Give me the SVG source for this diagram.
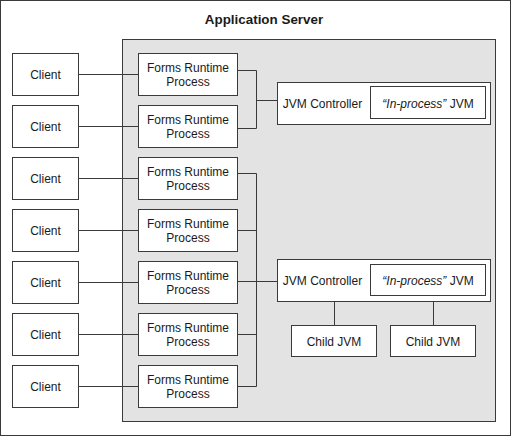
<svg xmlns="http://www.w3.org/2000/svg" width="511" height="436" viewBox="0 0 511 436">
<style>
.box{fill:#fff;stroke:#3a3a3a;stroke-width:1}
.t{font-family:"Liberation Sans",Arial,sans-serif;font-size:12px;fill:#1a1a1a;text-anchor:middle}
.c{fill:none;stroke:#3a3a3a;stroke-width:1}
</style>
<rect x="0.5" y="0.5" width="510" height="435" fill="#fff" stroke="#3a3a3a"/>
<text x="264" y="23.5" font-family="'Liberation Sans',Arial,sans-serif" font-size="13.4" font-weight="bold" text-anchor="middle" fill="#1a1a1a">Application Server</text>
<rect id="server" x="122.5" y="39.5" width="373" height="382" fill="#e3e3e3" stroke="#3a3a3a"/>
<g id="connectors" class="c">
<path d="M78.5 74.5H138.5M78.5 126.5H138.5M78.5 178.5H138.5M78.5 230.5H138.5M78.5 282.5H138.5M78.5 334.5H138.5M78.5 386.5H138.5"/>
<path d="M237.5 70.5H256.5V128.5H237.5M256.5 100.5H277.5"/>
<path d="M237.5 173.5H256.5V386.5H237.5M237.5 230.5H256.5M237.5 281.5H277.5M237.5 334.5H256.5"/>
<path d="M334.5 301.5V325.5M433.5 301.5V325.5"/>
</g>
<g id="client1"><rect class="box" x="12.5" y="53.5" width="66" height="42"/><text class="t" x="45.5" y="79">Client</text></g>
<g id="client2"><rect class="box" x="12.5" y="105.5" width="66" height="42"/><text class="t" x="45.5" y="131">Client</text></g>
<g id="client3"><rect class="box" x="12.5" y="157.5" width="66" height="42"/><text class="t" x="45.5" y="183">Client</text></g>
<g id="client4"><rect class="box" x="12.5" y="209.5" width="66" height="42"/><text class="t" x="45.5" y="235">Client</text></g>
<g id="client5"><rect class="box" x="12.5" y="261.5" width="66" height="42"/><text class="t" x="45.5" y="287">Client</text></g>
<g id="client6"><rect class="box" x="12.5" y="313.5" width="66" height="42"/><text class="t" x="45.5" y="339">Client</text></g>
<g id="client7"><rect class="box" x="12.5" y="365.5" width="66" height="42"/><text class="t" x="45.5" y="391">Client</text></g>
<g id="forms1"><rect class="box" x="138.5" y="53.5" width="99" height="42"/><text class="t" x="188" y="71.5">Forms Runtime</text><text class="t" x="188" y="85.5">Process</text></g>
<g id="forms2"><rect class="box" x="138.5" y="105.5" width="99" height="42"/><text class="t" x="188" y="123.5">Forms Runtime</text><text class="t" x="188" y="137.5">Process</text></g>
<g id="forms3"><rect class="box" x="138.5" y="157.5" width="99" height="42"/><text class="t" x="188" y="175.5">Forms Runtime</text><text class="t" x="188" y="189.5">Process</text></g>
<g id="forms4"><rect class="box" x="138.5" y="209.5" width="99" height="42"/><text class="t" x="188" y="227.5">Forms Runtime</text><text class="t" x="188" y="241.5">Process</text></g>
<g id="forms5"><rect class="box" x="138.5" y="261.5" width="99" height="42"/><text class="t" x="188" y="279.5">Forms Runtime</text><text class="t" x="188" y="293.5">Process</text></g>
<g id="forms6"><rect class="box" x="138.5" y="313.5" width="99" height="42"/><text class="t" x="188" y="331.5">Forms Runtime</text><text class="t" x="188" y="345.5">Process</text></g>
<g id="forms7"><rect class="box" x="138.5" y="365.5" width="99" height="42"/><text class="t" x="188" y="383.5">Forms Runtime</text><text class="t" x="188" y="397.5">Process</text></g>
<g id="jvmctrl1"><rect class="box" x="277.5" y="82.5" width="213" height="42"/><text class="t" x="322.5" y="107.5">JVM Controller</text>
<rect class="box" x="370.5" y="86.5" width="115" height="32"/><text class="t" x="428" y="107.5"><tspan font-style="italic">“In-process”</tspan> JVM</text></g>
<g id="jvmctrl2"><rect class="box" x="277.5" y="259.5" width="213" height="42"/><text class="t" x="322.5" y="285">JVM Controller</text>
<rect class="box" x="370.5" y="264.5" width="115" height="31"/><text class="t" x="428" y="285"><tspan font-style="italic">“In-process”</tspan> JVM</text></g>
<g id="child1"><rect class="box" x="291.5" y="325.5" width="85" height="31"/><text class="t" x="334" y="345.5">Child JVM</text></g>
<g id="child2"><rect class="box" x="390.5" y="325.5" width="85" height="31"/><text class="t" x="433" y="345.5">Child JVM</text></g>
</svg>
